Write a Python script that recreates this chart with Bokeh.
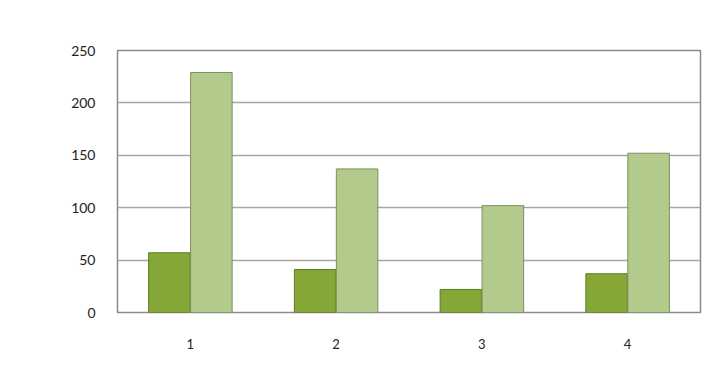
from bokeh.plotting import figure
from bokeh.models import (FactorRange, Range1d, Legend, LegendItem, Label, FixedTicker,
                          BoxAnnotation, ColumnDataSource)
from bokeh.embed import file_html
from bokeh.resources import INLINE
from bokeh.transform import dodge

paineis = ["1", "2", "3", "4"]
ao_vivo = [57, 41, 22, 37]
gravada = [229, 137, 102, 152]
y_ticks = [0, 50, 100, 150, 200, 250]

FONT = "Lato"

src = ColumnDataSource(dict(p=paineis, ao=ao_vivo, gr=gravada))

p = figure(x_range=FactorRange(*paineis), y_range=Range1d(0, 250),
           width=705, height=386, output_backend="svg", toolbar_location=None,
           min_border_left=117, min_border_top=50, min_border_right=5, min_border_bottom=74)

r1 = p.vbar(x=dodge("p", -0.144, range=p.x_range), top="ao", width=0.285, source=src,
            fill_color="#84a737", line_color="#5f7a22", line_width=1)
r2 = p.vbar(x=dodge("p", 0.144, range=p.x_range), top="gr", width=0.285, source=src,
            fill_color="#b2ca8c", line_color="#7d8f60", line_width=1)

p.outline_line_color = "#8a8a8a"
p.outline_line_width = 1.5
p.background_fill_color = "white"
p.border_fill_color = "white"

p.xgrid.grid_line_color = None
p.ygrid.grid_line_color = "#a6a6a6"
p.ygrid.grid_line_width = 1.5
p.yaxis.ticker = FixedTicker(ticks=y_ticks)

for ax in (p.xaxis[0], p.yaxis[0]):
    ax.axis_line_color = None
    ax.major_tick_line_color = None
    ax.minor_tick_line_color = None
    ax.major_label_text_font = FONT
    ax.major_label_text_color = "#222222"
p.xaxis.major_label_text_font_size = "13px"
p.yaxis.major_label_text_font_size = "14px"
p.xaxis.major_label_standoff = 20
p.yaxis.major_label_standoff = 16

p.add_layout(Label(x=-0.505, y=144, text="Quantidade de Visualizações", angle=1.5708,
                   text_font=FONT, text_font_style="bold", text_font_size="12px",
                   text_align="center", text_baseline="middle", text_color="#111111"))
p.add_layout(Label(x=-0.41, y=-27, text="Paineis",
                   text_font=FONT, text_font_size="16px",
                   text_align="center", text_baseline="middle", text_color="#222222"))

legend = Legend(items=[LegendItem(label="Ao vivo", renderers=[r1]),
                       LegendItem(label="Gravada", renderers=[r2])],
                orientation="horizontal", location=(168, -63),
                label_text_font=FONT, label_text_font_size="13px", label_text_color="#222222",
                glyph_width=10, glyph_height=10, label_standoff=4, spacing=12,
                padding=2, margin=0, border_line_color=None, background_fill_alpha=0)
p.add_layout(legend, "center")

p.add_layout(BoxAnnotation(left=12.5, right=900, top=12.5, bottom=900,
                           left_units="canvas", right_units="canvas",
                           top_units="canvas", bottom_units="canvas",
                           fill_alpha=0, line_color="black", line_width=3))

open("out.html", "w").write(file_html(p, INLINE))
